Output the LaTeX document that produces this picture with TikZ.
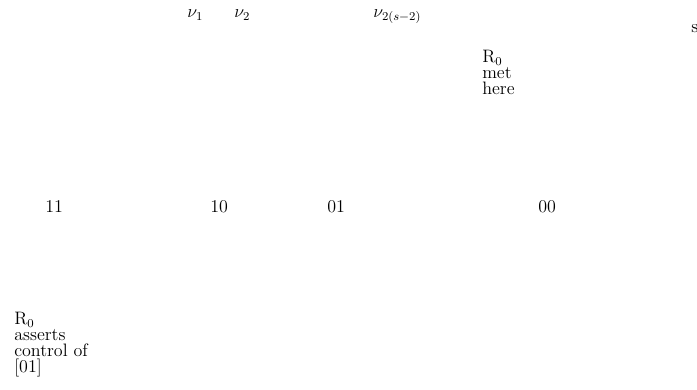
\documentclass[tikz,border=0pt]{standalone}
\begin{document}
\begin{tikzpicture}[x=0.6667pt,y=-0.6667pt,
  lbl/.style={anchor=base west,inner sep=0pt,align=left,font=\fontsize{12}{10.7}\selectfont}]
\useasboundingbox (0,0) rectangle (697,390);
\node[lbl] (n1) at (187,18) {$\nu_1$};
\node[lbl] (n2) at (234,18) {$\nu_2$};
\node[lbl] (nk) at (373,18) {$\nu_{2(s-2)}$};
\node[lbl] (s) at (691,33) {s};
\node[lbl] (met) at (482,95) {R$_0$\\met\\here};
\node[lbl] (a) at (45,213) {11};
\node[lbl] (b) at (210,213) {10};
\node[lbl] (c) at (327,213) {01};
\node[lbl] (d) at (538,213) {00};
\node[lbl] (ctl) at (14,373) {R$_0$\\asserts\\control of\\{[01]}};
\end{tikzpicture}
\end{document}
